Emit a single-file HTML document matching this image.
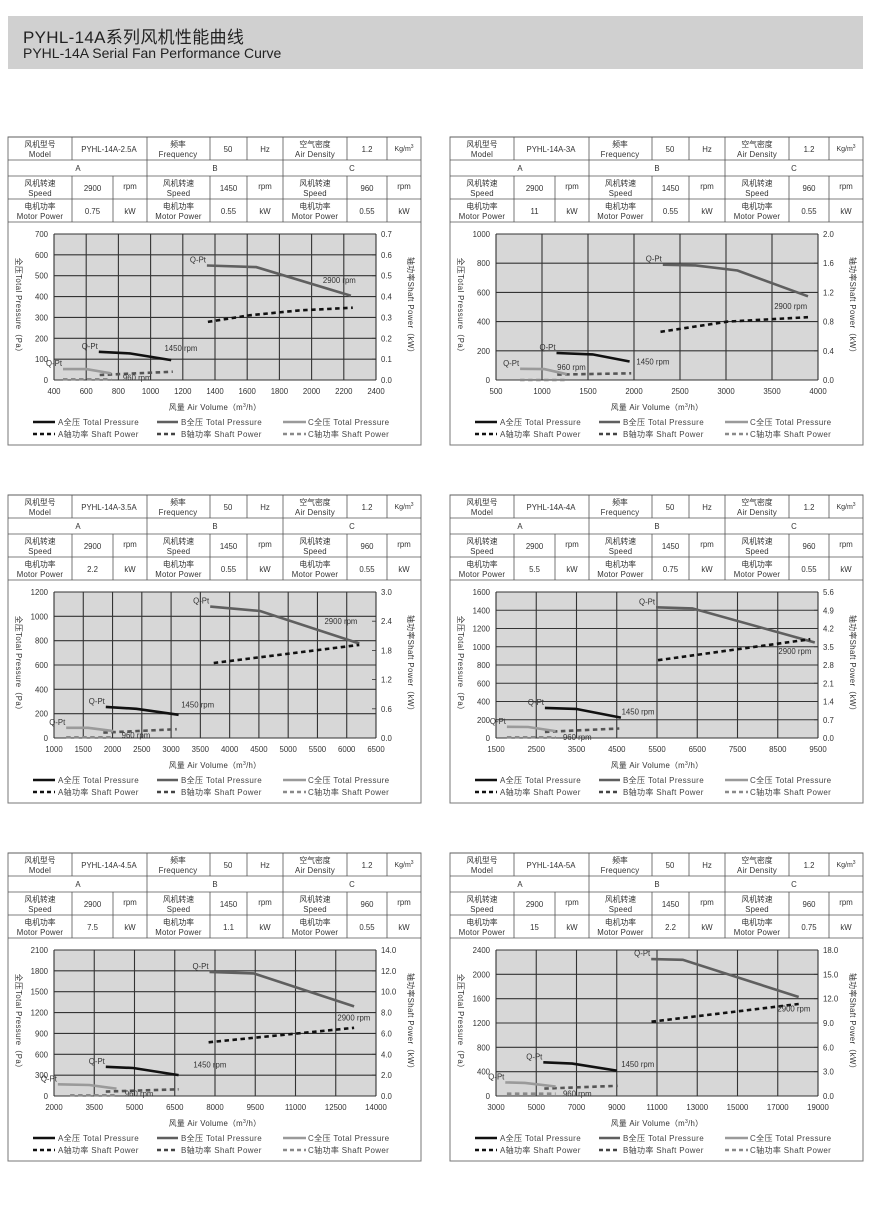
<!DOCTYPE html>
<html><head><meta charset="utf-8">
<style>
html,body{margin:0;padding:0;background:#fff;width:870px;height:1214px;overflow:hidden}
#hdr{position:absolute;left:8px;top:16px;width:855px;height:53px;background:#d0d0d0}
#hdr .t1{position:absolute;left:15px;top:7px;font:17px "Liberation Sans","Noto Sans CJK SC",sans-serif;color:#222;letter-spacing:0.3px}
#hdr .t2{position:absolute;left:15px;top:29px;font:14px "Liberation Sans",sans-serif;color:#222}
svg{position:absolute;left:0;top:0}
</style></head><body>
<div id="hdr"><div class="t1">PYHL-14A系列风机性能曲线</div><div class="t2">PYHL-14A Serial Fan Performance Curve</div></div>
<svg id="s" width="870" height="1214" xmlns="http://www.w3.org/2000/svg" font-family="Liberation Sans, Noto Sans CJK SC, sans-serif"></svg>
<script>
var P=[
{x:8,y:137,m:"PYHL-14A-2.5A",pw:["0.75","0.55","0.55"],rows:7,cols:10,
 L:["0","100","200","300","400","500","600","700"],R:["0.0","0.1","0.2","0.3","0.4","0.5","0.6","0.7"],
 X:["400","600","800","1000","1200","1400","1600","1800","2000","2200","2400"],
 B:[[.475,.784],[.628,.773],[.922,.577]],Bp:[[.478,.398],[.607,.443],[.762,.477],[.928,.495]],
 A:[[.139,.193],[.235,.182],[.364,.136]],Ap:[[.142,.034],[.369,.057]],
 C:[[.028,.075],[.1,.075],[.178,.045]],Cp:[[.028,.005],[.178,.005]],
 l29:[.835,.666],l14:[.343,.2],l96:[.214,.018]},
{x:450,y:137,m:"PYHL-14A-3A",pw:["11","0.55","0.55"],rows:5,cols:7,
 L:["0","200","400","600","800","1000"],R:["0.0","0.4","0.8","1.2","1.6","2.0"],
 X:["500","1000","1500","2000","2500","3000","3500","4000"],
 B:[[.518,.79],[.62,.785],[.75,.75],[.969,.573]],Bp:[[.511,.33],[.72,.4],[.969,.43]],
 A:[[.188,.185],[.3,.175],[.415,.127]],Ap:[[.19,.037],[.42,.046]],
 C:[[.075,.077],[.15,.075],[.22,.04]],Cp:[[.075,0],[.22,0]],
 l29:[.864,.486],l14:[.436,.106],l96:[.19,.088]},
{x:8,y:495,m:"PYHL-14A-3.5A",pw:["2.2","0.55","0.55"],rows:6,cols:11,
 L:["0","200","400","600","800","1000","1200"],R:["0.0","0.6","1.2","1.8","2.4","3.0"],
 X:["1000","1500","2000","2500","3000","3500","4000","4500","5000","5500","6000","6500"],
 B:[[.485,.9],[.64,.87],[.948,.647]],Bp:[[.496,.514],[.948,.638]],
 A:[[.161,.213],[.256,.2],[.387,.159]],Ap:[[.153,.037],[.381,.06]],
 C:[[.038,.07],[.106,.07],[.184,.047]],Cp:[[.038,.005],[.184,.005]],
 l29:[.84,.78],l14:[.395,.21],l96:[.21,.02]},
{x:450,y:495,m:"PYHL-14A-4A",pw:["5.5","0.75","0.55"],rows:8,cols:8,
 L:["0","200","400","600","800","1000","1200","1400","1600"],R:["0.0","0.7","1.4","2.1","2.8","3.5","4.2","4.9","5.6"],
 X:["1500","2500","3500","4500","5500","6500","7500","8500","9500"],
 B:[[.497,.895],[.61,.888],[.99,.654]],Bp:[[.503,.533],[.976,.677]],
 A:[[.152,.206],[.248,.199],[.388,.14]],Ap:[[.152,.042],[.383,.065]],
 C:[[.034,.077],[.1,.075],[.185,.047]],Cp:[[.034,.005],[.185,.005]],
 l29:[.877,.575],l14:[.39,.16],l96:[.208,.007]},
{x:8,y:853,m:"PYHL-14A-4.5A",pw:["7.5","1.1","0.55"],rows:7,cols:8,
 L:["0","300","600","900","1200","1500","1800","2100"],R:["0.0","2.0","4.0","6.0","8.0","10.0","12.0","14.0"],
 X:["2000","3500","5000","6500","8000","9500","11000","12500","14000"],
 B:[[.483,.85],[.62,.84],[.932,.614]],Bp:[[.48,.368],[.932,.467]],
 A:[[.161,.2],[.246,.192],[.387,.143]],Ap:[[.161,.03],[.387,.046]],
 C:[[.012,.08],[.11,.075],[.194,.05]],Cp:[[.05,.005],[.194,.005]],
 l29:[.88,.517],l14:[.433,.195],l96:[.22,.016]},
{x:450,y:853,m:"PYHL-14A-5A",pw:["15","2.2","0.75"],rows:6,cols:8,
 L:["0","400","800","1200","1600","2000","2400"],R:["0.0","3.0","6.0","9.0","12.0","15.0","18.0"],
 X:["3000","5000","7000","9000","11000","13000","15000","17000","19000"],
 B:[[.482,.938],[.58,.933],[.94,.678]],Bp:[[.483,.509],[.94,.63]],
 A:[[.147,.231],[.237,.222],[.375,.174]],Ap:[[.15,.051],[.378,.07]],
 C:[[.029,.093],[.09,.09],[.185,.065]],Cp:[[.034,.016],[.185,.016]],
 l29:[.874,.579],l14:[.389,.2],l96:[.208,.016]}
];
var h='';
function ln(x1,y1,x2,y2,c,w){h+='<line x1="'+x1+'" y1="'+y1+'" x2="'+x2+'" y2="'+y2+'" stroke="'+c+'" stroke-width="'+(w||0.8)+'"/>';}
function tx(x,y,t,s,a,c,ls){h+='<text x="'+x+'" y="'+y+'" font-size="'+(s||7.8)+'" text-anchor="'+(a||'middle')+'" fill="'+(c||'#333')+'"'+(ls?' letter-spacing="'+ls+'"':'')+'>'+t+'</text>';}
function two(cx,y,a,b){tx(cx,y+9,a,7.8);tx(cx,y+19,b,7.8,'middle','#333',0.2);}
P.forEach(function(p){
 var X0=p.x,Y0=p.y,W=413;
 h+='<rect x="'+X0+'" y="'+Y0+'" width="'+W+'" height="308" fill="#fff" stroke="#777" stroke-width="1"/>';
 var r=[0,23,39,62,85];
 r.forEach(function(v){ln(X0,Y0+v,X0+W,Y0+v,'#555',0.8);});
 [64,139,202,239,275,339,379].forEach(function(c){ln(X0+c,Y0,X0+c,Y0+23,'#555',0.8);});
 [139,275].forEach(function(c){ln(X0+c,Y0+23,X0+c,Y0+39,'#555',0.8);});
 [64,105,139,202,239,275,339,379].forEach(function(c){ln(X0+c,Y0+39,X0+c,Y0+85,'#555',0.8);});
 two(X0+32,Y0+1,'风机型号','Model');tx(X0+101,Y0+15,p.m,7.8);
 two(X0+170,Y0+1,'频率','Frequency');tx(X0+220,Y0+15,'50');tx(X0+257,Y0+15,'Hz');
 two(X0+307,Y0+1,'空气密度','Air Density');tx(X0+359,Y0+15,'1.2');tx(X0+396,Y0+14,'Kg/m<tspan font-size="5" dy="-3">3</tspan>',7);
 tx(X0+70,Y0+34,'A');tx(X0+207,Y0+34,'B');tx(X0+344,Y0+34,'C');
 var sp=['2900','1450','960'],gx=[[0,64,105,139],[139,202,239,275],[275,339,379,413]];
 for(var i=0;i<3;i++){var g=gx[i];
  two(X0+(g[0]+g[1])/2,Y0+40,'风机转速','Speed');tx(X0+(g[1]+g[2])/2,Y0+54,sp[i]);tx(X0+(g[2]+g[3])/2,Y0+52,'rpm');
  two(X0+(g[0]+g[1])/2,Y0+63,'电机功率','Motor Power');tx(X0+(g[1]+g[2])/2,Y0+77,p.pw[i]);tx(X0+(g[2]+g[3])/2,Y0+77,'kW');}
 var px=X0+46,py=Y0+97,pw=322,ph=146,pb=py+ph;
 h+='<rect x="'+px+'" y="'+py+'" width="'+pw+'" height="'+ph+'" fill="#d7d7d7"/>';
 for(i=0;i<=p.cols;i++){var x=px+pw*i/p.cols;ln(x,py,x,pb,'#333',1.1);}
 for(i=0;i<=p.rows;i++){var y=py+ph*i/p.rows;ln(px,y,px+pw,y,'#333',1.1);}
 p.L.forEach(function(t,k){tx(px-6,pb-ph*k/(p.L.length-1)+3,t,7.8,'end');});
 p.R.forEach(function(t,k){var y=pb-ph*k/(p.R.length-1);tx(px+pw+5,y+3,t,7.8,'start');ln(px+pw-4,y,px+pw,y,'#333',0.8);});
 p.X.forEach(function(t,k){tx(px+pw*k/(p.X.length-1),pb+14,t,7.8);});
 h+='<text transform="translate('+(X0+8)+','+(py+ph/2)+') rotate(90)" font-size="7.8" text-anchor="middle" fill="#333" letter-spacing="0.4">全压Total Pressure（Pa）</text>';
 h+='<text transform="translate('+(X0+400)+','+(py+ph/2)+') rotate(90)" font-size="7.8" text-anchor="middle" fill="#333" letter-spacing="0.4">轴功率Shaft Power（kW）</text>';
 tx(px+pw/2,Y0+273,'风量 Air Volume（m<tspan font-size="5" dy="-3">3</tspan><tspan dy="3">/h）</tspan>',7.8,'middle','#333',0.3);
 function pl(a,c,d){var s=a.map(function(q){return (px+pw*q[0]).toFixed(1)+','+(pb-ph*q[1]).toFixed(1);}).join(' ');
  h+='<polyline points="'+s+'" fill="none" stroke="'+c+'" stroke-width="2.6" '+(d?'stroke-dasharray="4.5 3.5"':'')+'/>';}
 pl(p.B,'#5f5f5f');pl(p.Bp,'#111',1);pl(p.A,'#111');pl(p.Ap,'#555',1);pl(p.C,'#9a9a9a');pl(p.Cp,'#8a8a8a',1);
 [p.B,p.A,p.C].forEach(function(c){tx(px+pw*c[0][0]-1,pb-ph*c[0][1]-3,'Q-Pt',7.8,'end');});
 tx(px+pw*p.l29[0],pb-ph*p.l29[1],'2900 rpm',7.8,'start');
 tx(px+pw*p.l14[0],pb-ph*p.l14[1],'1450 rpm',7.8,'start');
 tx(px+pw*p.l96[0],pb-ph*p.l96[1]+3,'960 rpm',7.8,'start');
 var lc=[[25,47,50],[149,170,173],[275,298,300]],cols=['#111','#5f5f5f','#9a9a9a'],dc=['#111','#444','#8a8a8a'],nm=['A','B','C'];
 for(i=0;i<3;i++){var c=lc[i];
  ln(X0+c[0],Y0+285,X0+c[1],Y0+285,cols[i],2.4);tx(X0+c[2],Y0+288,nm[i]+'全压 Total Pressure',8,'start','#444',0.35);
  h+='<line x1="'+(X0+c[0])+'" y1="'+(Y0+297)+'" x2="'+(X0+c[1])+'" y2="'+(Y0+297)+'" stroke="'+dc[i]+'" stroke-width="2.4" stroke-dasharray="4 3"/>';
  tx(X0+c[2],Y0+300,nm[i]+'轴功率 Shaft Power',8,'start','#444',0.35);}
});
document.getElementById('s').innerHTML=h;
</script>
</body></html>
